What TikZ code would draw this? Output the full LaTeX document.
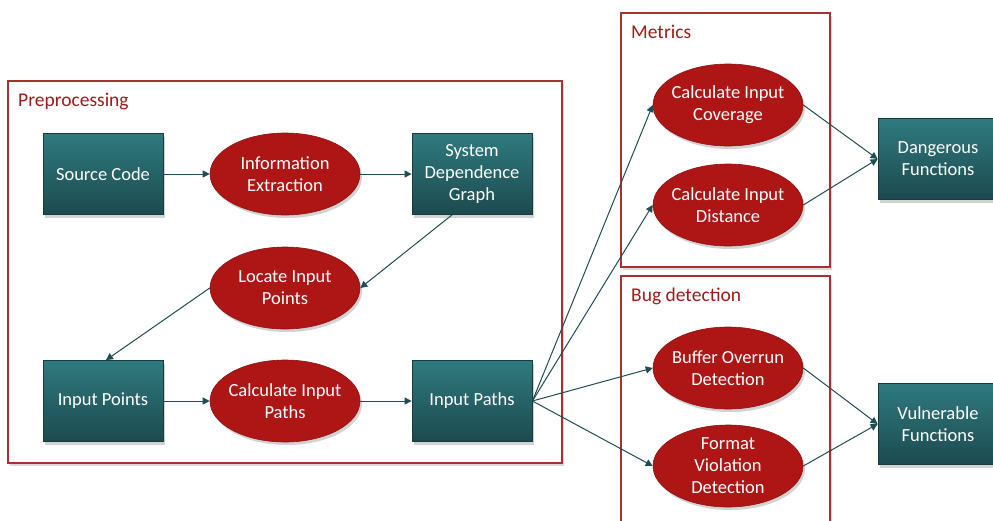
\documentclass[tikz,border=0pt]{standalone}
\usepackage{fontspec}
\setmainfont{Carlito}
\usetikzlibrary{shapes.geometric,arrows.meta,shadows,fadings}
\definecolor{tealtop}{HTML}{2F7A7F}
\definecolor{tealbot}{HTML}{1C4A4E}
\definecolor{tealedge}{HTML}{173C3F}
\definecolor{redfill}{HTML}{AE1616}
\definecolor{rededge}{HTML}{8E1212}
\definecolor{frameedge}{HTML}{A83030}
\definecolor{labelred}{HTML}{9E1B1B}
\definecolor{arrowcol}{HTML}{1F4D51}
\tikzset{
  procbox/.style={rectangle, draw=tealedge, line width=0.8pt, top color=tealtop, bottom color=tealbot,
    minimum width=120pt, minimum height=81pt, text=white, align=center, font=\fontsize{18.5}{22}\selectfont,
    drop shadow={shadow xshift=2pt, shadow yshift=-3pt, opacity=0.35}},
  procell/.style={ellipse, draw=rededge, line width=0.6pt, fill=redfill, inner xsep=-12pt, inner ysep=-10pt,
    minimum width=150pt, minimum height=82pt, text=white, align=center, font=\fontsize{18.5}{22}\selectfont,
    drop shadow={shadow xshift=2pt, shadow yshift=-3pt, opacity=0.35}},
  groupframe/.style={draw=frameedge, line width=1.1pt, fill=white,
    drop shadow={shadow xshift=2pt, shadow yshift=-3pt, opacity=0.3}},
  grouplabel/.style={anchor=west, text=labelred, font=\fontsize{19.5}{22}\selectfont, inner sep=0pt},
  flow/.style={draw=arrowcol, line width=1pt, -{Triangle[length=7pt,width=7pt]}},
}
\begin{document}
\begin{tikzpicture}[x=1pt,y=-1pt]
\useasboundingbox (0,0) rectangle (993,520);
% frames
\path[groupframe] (8,81) rectangle (562,463);
\node[grouplabel] (lpre) at (18,101) {Preprocessing};
\path[groupframe] (621,13) rectangle (830,267);
\node[grouplabel] (lmet) at (631,32) {Metrics};
\path[groupframe] (621,276) rectangle (830,530);
\node[grouplabel] (lbug) at (631,296) {Bug detection};
% nodes
\node[procbox] (src) at (103,174) {Source Code};
\node[procell] (info) at (285,174) {Information\\Extraction};
\node[procbox] (sdg) at (472,174) {System\\Dependence\\Graph};
\node[procell] (loc) at (285,288) {Locate Input\\Points};
\node[procbox] (ipts) at (103,401) {Input Points};
\node[procell] (cip) at (285,401) {Calculate Input\\Paths};
\node[procbox] (ipaths) at (472,401) {Input Paths};
\node[procell] (cov) at (728,105) {Calculate Input\\Coverage};
\node[procell] (dist) at (728,205) {Calculate Input\\Distance};
\node[procell] (buf) at (728,368) {Buffer Overrun\\Detection};
\node[procell] (fmt) at (728,466) {Format\\Violation\\Detection};
\node[procbox] (dang) at (938,159) {Dangerous\\Functions};
\node[procbox] (vuln) at (938,424) {Vulnerable\\Functions};
% connectors
\draw[flow] (src) -- (info);
\draw[flow] (info) -- (sdg);
\draw[flow] ([xshift=-20pt]sdg.south) -- (loc.east);
\draw[flow] (loc.west) -- ([xshift=3pt]ipts.north);
\draw[flow] (ipts) -- (cip);
\draw[flow] (cip) -- (ipaths);
\coordinate (ipe) at (ipaths.east);
\draw[flow] (ipe) -- (cov.west);
\draw[flow] (ipe) -- (dist.west);
\draw[flow] (ipe) -- (buf.west);
\draw[flow] (ipe) -- (fmt.west);
\coordinate (dw) at (dang.west);
\draw[flow] (cov.east) -- (dw);
\draw[flow] (dist.east) -- (dw);
\coordinate (vw) at (vuln.west);
\draw[flow] (buf.east) -- (vw);
\draw[flow] (fmt.east) -- (vw);
\end{tikzpicture}
\end{document}
